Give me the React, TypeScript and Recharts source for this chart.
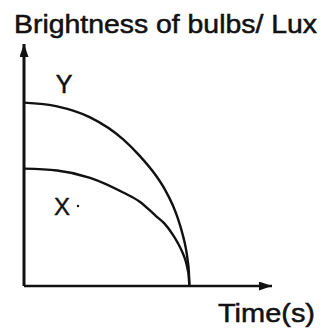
import { LineChart, Line, XAxis, YAxis } from "recharts";

// time in arbitrary units; both bulbs die out at t = 10
const times = [0, 2, 4, 6, 7, 8, 8.5, 9, 9.3, 9.6, 9.8, 9.9, 9.97, 10];
const bulbY = [10, 9.8, 9.2, 8.0, 7.1, 6.0, 5.3, 4.4, 3.7, 2.8, 2.0, 1.4, 0.8, 0];
const bulbX = [6.4, 6.3, 5.9, 5.1, 4.6, 3.8, 3.4, 2.8, 2.35, 1.8, 1.3, 0.9, 0.5, 0];

const data = times.map((t, i) => ({ t, Y: bulbY[i], X: bulbX[i] }));

const ink = "#111";
const font = "'Liberation Sans', Arial, sans-serif";

export default function App() {
  return (
    <div style={{ position: "absolute", left: 0, top: 0, width: 325, height: 331, background: "#fff" }}>
      <LineChart width={325} height={331} data={data} margin={{ top: 44, right: 53, left: 23, bottom: 44 }}>
        <defs>
          <marker id="arrowHead" viewBox="0 0 13 9" refX="13" refY="4.5" markerWidth="13" markerHeight="9"
            markerUnits="userSpaceOnUse" orient="auto-start-reverse">
            <path d="M0,0 L13,4.5 L0,9 z" fill={ink} />
          </marker>
        </defs>
        <XAxis type="number" dataKey="t" domain={[0, 15]} height={1} tick={false} tickLine={false}
          axisLine={{ stroke: ink, strokeWidth: 2.5, markerEnd: "url(#arrowHead)" }} />
        <YAxis type="number" domain={[0, 13.2]} width={1} tick={false} tickLine={false}
          axisLine={{ stroke: ink, strokeWidth: 3, markerStart: "url(#arrowHead)" }} />
        <Line type="monotone" dataKey="Y" stroke={ink} strokeWidth={2.4} dot={false} isAnimationActive={false} />
        <Line type="monotone" dataKey="X" stroke={ink} strokeWidth={2.4} dot={false} isAnimationActive={false} />
        <text x={14} y={33} fontFamily={font} fontSize={25} fill={ink} stroke={ink} strokeWidth={0.5}
          textLength={303} lengthAdjust="spacingAndGlyphs">
          Brightness of bulbs/ Lux
        </text>
        <text x={64} y={93} fontFamily={font} fontSize={25} fill={ink} stroke={ink} strokeWidth={0.5} textAnchor="middle">Y</text>
        <text x={54} y={215} fontFamily={font} fontSize={24} fill={ink} stroke={ink} strokeWidth={0.4}>X</text>
        <circle cx={78} cy={206} r={1.2} fill={ink} />
        <text x={218} y={322} fontFamily={font} fontSize={26} fill={ink} stroke={ink} strokeWidth={0.5}
          textLength={97} lengthAdjust="spacingAndGlyphs">
          Time(s)
        </text>
      </LineChart>
    </div>
  );
}
